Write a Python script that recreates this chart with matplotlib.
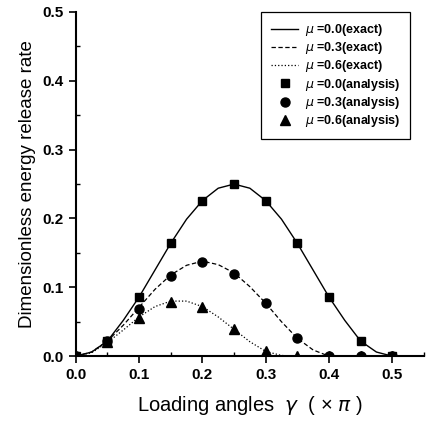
import matplotlib.pyplot as plt
import numpy as np
from matplotlib.ticker import MultipleLocator

# loading angle (x pi)
gamma_exact = [0.0, 0.025, 0.05, 0.075, 0.1, 0.125, 0.15, 0.175, 0.2, 0.225, 0.25,
               0.275, 0.3, 0.325, 0.35, 0.375, 0.4, 0.425, 0.45, 0.475, 0.5]
exact_mu00 = [0.0, 0.006, 0.022, 0.052, 0.086, 0.125, 0.164, 0.199, 0.226, 0.244, 0.25,
              0.244, 0.226, 0.199, 0.164, 0.125, 0.086, 0.052, 0.022, 0.006, 0.0]
exact_mu03 = [0.0, 0.006, 0.022, 0.045, 0.071, 0.097, 0.118, 0.132, 0.138, 0.133, 0.121,
              0.101, 0.077, 0.050, 0.026, 0.009, 0.0, 0.0, 0.0, 0.0, 0.0]
exact_mu06 = [0.0, 0.005, 0.020, 0.038, 0.057, 0.072, 0.080, 0.080, 0.072, 0.057, 0.039,
              0.021, 0.007, 0.001, 0.0, 0.0, 0.0, 0.0, 0.0, 0.0, 0.0]

gamma_pts = [0.0, 0.05, 0.1, 0.15, 0.2, 0.25, 0.3, 0.35, 0.4, 0.45, 0.5]
ana_mu00 = [0.0, 0.022, 0.086, 0.164, 0.226, 0.25, 0.226, 0.164, 0.086, 0.022, 0.0]
ana_mu03 = [0.0, 0.022, 0.069, 0.116, 0.137, 0.120, 0.077, 0.026, 0.0, 0.0, 0.0]
ana_mu06 = [0.0, 0.021, 0.056, 0.079, 0.072, 0.039, 0.007, 0.0, 0.0, 0.0, 0.0]

plt.rcParams['font.family'] = ['Liberation Sans', 'DejaVu Sans']

fig = plt.figure(figsize=(4.26, 4.21), dpi=100)
ax = fig.add_axes([0.178, 0.154, 0.817, 0.8175])

ax.plot(gamma_exact, exact_mu00, '-', color='black', lw=1.0, label=r'$\mu$ =0.0(exact)')
ax.plot(gamma_exact, exact_mu03, '--', color='black', lw=0.9, dashes=(3.5, 2), label=r'$\mu$ =0.3(exact)')
ax.plot(gamma_exact, exact_mu06, ':', color='black', lw=0.9, label=r'$\mu$ =0.6(exact)')
ax.plot(gamma_pts, ana_mu00, 's', color='black', ms=6, ls='none', label=r'$\mu$ =0.0(analysis)')
ax.plot(gamma_pts, ana_mu03, 'o', color='black', ms=6.5, ls='none', label=r'$\mu$ =0.3(analysis)')
ax.plot(gamma_pts, ana_mu06, '^', color='black', ms=7, ls='none', label=r'$\mu$ =0.6(analysis)')

ax.set_xlim(0, 0.55)
ax.set_ylim(0, 0.5)
ax.spines['top'].set_visible(False)
ax.spines['right'].set_visible(False)
ax.spines['left'].set_linewidth(1.5)
ax.spines['bottom'].set_linewidth(1.5)

ax.set_xticks([0.0, 0.1, 0.2, 0.3, 0.4, 0.5])
ax.set_yticks([0.0, 0.1, 0.2, 0.3, 0.4, 0.5])
ax.xaxis.set_minor_locator(MultipleLocator(0.05))
ax.yaxis.set_minor_locator(MultipleLocator(0.05))
ax.set_xticklabels(['0.0', '0.1', '0.2', '0.3', '0.4', '0.5'], fontweight='bold')
ax.set_yticklabels(['0.0', '0.1', '0.2', '0.3', '0.4', '0.5'], fontweight='bold')
ax.tick_params(which='major', direction='out', length=5, width=1.2, labelsize=11)
ax.tick_params(which='minor', direction='in', length=3, width=1.0)

ax.set_xlabel('Loading angles  $\\gamma$  ( × $\\pi$ )', fontsize=14.5, labelpad=9)
ax.set_ylabel('Dimensionless energy release rate', fontsize=13.5, labelpad=5)

leg = ax.legend(loc='upper left', bbox_to_anchor=(0.532, 1.0), frameon=True, fancybox=False,
                edgecolor='black', framealpha=1, handlelength=2.2, handletextpad=0.5,
                labelspacing=0.18, borderpad=0.8, borderaxespad=0.0,
                prop={'size': 9, 'weight': 'bold'})
leg.get_frame().set_linewidth(0.9)

fig.savefig('out.png', dpi=100)
